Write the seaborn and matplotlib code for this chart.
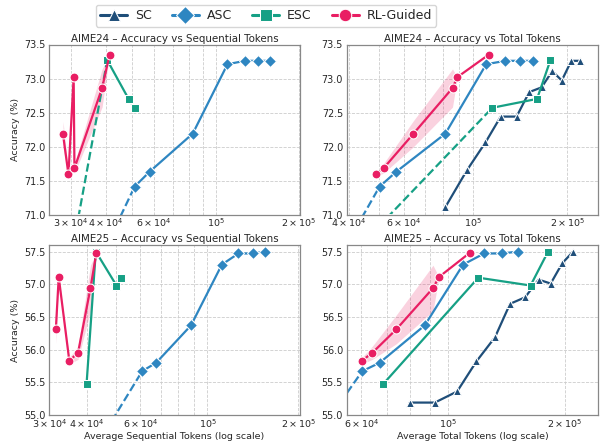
import numpy as np
import pandas as pd
import matplotlib
matplotlib.use("Agg")
import matplotlib.pyplot as plt
from matplotlib.lines import Line2D
import seaborn as sns

# ---------------- data ----------------
methods = ["SC", "ASC", "ESC", "RL-Guided"]
colors = {"SC": "#1f4e79", "ASC": "#2e86c1", "ESC": "#16a085", "RL-Guided": "#e91e63"}
markers = {"SC": "^", "ASC": "D", "ESC": "s", "RL-Guided": "o"}

# AIME24
a24_sc_total = [8.14e4, 9.54e4, 1.094e5, 1.224e5, 1.376e5, 1.51e5, 1.655e5, 1.79e5, 1.92e5, 2.06e5, 2.19e5]
a24_sc_acc = [71.11, 71.65, 72.06, 72.44, 72.44, 72.80, 72.87, 73.11, 72.97, 73.26, 73.26]
a24_asc_seq = [3.98e4, 5.09e4, 5.77e4, 8.27e4, 1.105e5, 1.28e5, 1.43e5, 1.575e5]
a24_asc_total = [3.86e4, 5.01e4, 5.67e4, 8.14e4, 1.10e5, 1.268e5, 1.409e5, 1.553e5]
a24_asc_acc = [70.50, 71.41, 71.63, 72.19, 73.21, 73.26, 73.26, 73.26]
a24_esc_seq = [3.18e4, 4.05e4, 4.84e4, 5.09e4]
a24_esc_total = [5.29e4, 1.766e5, 1.60e5, 1.151e5]
a24_esc_acc = [70.95, 73.27, 72.70, 72.57]
a24_rl_seq = [2.93e4, 3.08e4, 2.80e4, 3.88e4, 3.06e4, 4.13e4]
a24_rl_total = [4.89e4, 5.16e4, 6.41e4, 8.58e4, 8.89e4, 1.12e5]
a24_rl_acc = [71.59, 71.68, 72.18, 72.86, 73.02, 73.35]
a24_rl_spread = [0.03, 0.07, 0.19, 0.28, 0.0, 0.0]

# AIME25
a25_sc_total = [7.99e4, 9.27e4, 1.058e5, 1.186e5, 1.324e5, 1.447e5, 1.582e5, 1.714e5, 1.841e5, 1.971e5, 2.103e5]
a25_sc_acc = [55.19, 55.19, 55.36, 55.82, 56.19, 56.70, 56.80, 57.07, 57.01, 57.32, 57.50]
a25_asc_seq = [4.39e4, 6.08e4, 6.77e4, 8.82e4, 1.116e5, 1.266e5, 1.417e5, 1.556e5]
a25_asc_total = [4.51e4, 6.03e4, 6.69e4, 8.73e4, 1.096e5, 1.241e5, 1.38e5, 1.52e5]
a25_asc_acc = [54.60, 55.67, 55.80, 56.37, 57.30, 57.47, 57.47, 57.50]
a25_esc_seq = [3.98e4, 4.27e4, 5.00e4, 5.18e4]
a25_esc_total = [6.82e4, 1.813e5, 1.634e5, 1.199e5]
a25_esc_acc = [55.47, 57.50, 56.98, 57.10]
a25_rl_seq = [3.49e4, 3.73e4, 3.15e4, 4.10e4, 3.22e4, 4.29e4]
a25_rl_total = [6.02e4, 6.40e4, 7.38e4, 9.17e4, 9.50e4, 1.14e5]
a25_rl_acc = [55.83, 55.95, 56.31, 56.94, 57.11, 57.48]
a25_rl_spread = [0.05, 0.10, 0.22, 0.35, 0.0, 0.0]

# ---------------- style ----------------
sns.set_theme(style="whitegrid")
plt.rcParams["font.family"] = ["DejaVu Sans"]

fig, axes = plt.subplots(2, 2, figsize=(6.03, 4.45), dpi=100)
fig.subplots_adjust(left=0.082, right=0.991, top=0.90, bottom=0.0674, wspace=0.19, hspace=0.179)

LW = 1.6
MS = {"SC": 6.0, "ASC": 6.5, "ESC": 6.3, "RL-Guided": 6.4}


def draw_series(ax, x, y, name, ylow, spread=None):
    color = colors[name]
    mk = markers[name]
    df = pd.DataFrame({"x": x, "y": y}).sort_values("x").reset_index(drop=True)
    vis = (df["y"] >= ylow).to_numpy()
    n = len(df)
    # dashed segments linking out-of-range points
    for i in range(n):
        if not vis[i]:
            for j in (i - 1, i + 1):
                if 0 <= j < n and vis[j]:
                    seg = df.iloc[sorted([i, j])]
                    sns.lineplot(data=seg, x="x", y="y", ax=ax, color=color,
                                 linestyle="--", lw=LW, marker=mk, markersize=MS[name],
                                 errorbar=None, legend=False)
    dv = df[vis].copy()
    if spread is not None:
        sp = pd.DataFrame({"x": x, "y": y, "s": spread}).sort_values("x")
        sp = sp[sp["y"] >= ylow]
        long = pd.concat([
            pd.DataFrame({"x": sp["x"], "y": sp["y"] - sp["s"]}),
            pd.DataFrame({"x": sp["x"], "y": sp["y"] + sp["s"]}),
        ])
        sns.lineplot(data=long, x="x", y="y", ax=ax, color=color, lw=LW,
                     marker=mk, markersize=MS[name], errorbar=("pi", 100),
                     err_kws={"alpha": 0.2, "linewidth": 0}, legend=False)
    else:
        sns.lineplot(data=dv, x="x", y="y", ax=ax, color=color, lw=LW,
                     marker=mk, markersize=MS[name], errorbar=None, legend=False)


panels = [
    (axes[0, 0], "AIME24 – Accuracy vs Sequential Tokens", (2.5e4, 2.02e5), (71.0, 73.5),
     [("ASC", a24_asc_seq, a24_asc_acc, None), ("ESC", a24_esc_seq, a24_esc_acc, None),
      ("RL-Guided", a24_rl_seq, a24_rl_acc, a24_rl_spread)]),
    (axes[0, 1], "AIME24 – Accuracy vs Total Tokens", (3.95e4, 2.5e5), (71.0, 73.5),
     [("SC", a24_sc_total, a24_sc_acc, None), ("ASC", a24_asc_total, a24_asc_acc, None),
      ("ESC", a24_esc_total, a24_esc_acc, None),
      ("RL-Guided", a24_rl_total, a24_rl_acc, a24_rl_spread)]),
    (axes[1, 0], "AIME25 – Accuracy vs Sequential Tokens", (3.0e4, 2.02e5), (55.0, 57.6),
     [("ASC", a25_asc_seq, a25_asc_acc, None), ("ESC", a25_esc_seq, a25_esc_acc, None),
      ("RL-Guided", a25_rl_seq, a25_rl_acc, a25_rl_spread)]),
    (axes[1, 1], "AIME25 – Accuracy vs Total Tokens", (5.52e4, 2.43e5), (55.0, 57.6),
     [("SC", a25_sc_total, a25_sc_acc, None), ("ASC", a25_asc_total, a25_asc_acc, None),
      ("ESC", a25_esc_total, a25_esc_acc, None),
      ("RL-Guided", a25_rl_total, a25_rl_acc, a25_rl_spread)]),
]

for ax, title, xlim, ylim, series in panels:
    for name, xs, ys, spread in series:
        draw_series(ax, xs, ys, name, ylim[0], spread)
    ax.set_xscale("log")
    ax.set_xlim(*xlim)
    ax.set_ylim(*ylim)
    ax.set_title(title, fontsize=7.4, pad=2)
    ax.grid(True, which="both", linestyle="--", linewidth=0.6, color="#cccccc")
    ax.tick_params(axis="x", which="both", labelsize=6.8, pad=1.5, length=0)
    ax.tick_params(axis="y", which="both", labelsize=6.9, pad=3, length=0)
    for s in ax.spines.values():
        s.set_color("#888888")
        s.set_linewidth(0.9)
    ax.set_xlabel("")
    ax.set_ylabel("")

axes[0, 0].set_ylabel("Accuracy (%)", fontsize=6.8, labelpad=3)
axes[1, 0].set_ylabel("Accuracy (%)", fontsize=6.8, labelpad=3)
axes[1, 0].set_xlabel("Average Sequential Tokens (log scale)", fontsize=6.8, labelpad=1.5)
axes[1, 1].set_xlabel("Average Total Tokens (log scale)", fontsize=6.8, labelpad=1.5)

handles = [Line2D([0], [0], color=colors[m], marker=markers[m], lw=2.2, markersize=9,
                  markeredgecolor="w", markeredgewidth=0.75) for m in methods]
fig.legend(handles, methods, loc="upper center", bbox_to_anchor=(0.441, 1.003), ncol=4,
           fontsize=9, frameon=True, handlelength=2.2, columnspacing=1.6,
           borderpad=0.35, handletextpad=0.6)

fig.savefig("out.png", dpi=100)
